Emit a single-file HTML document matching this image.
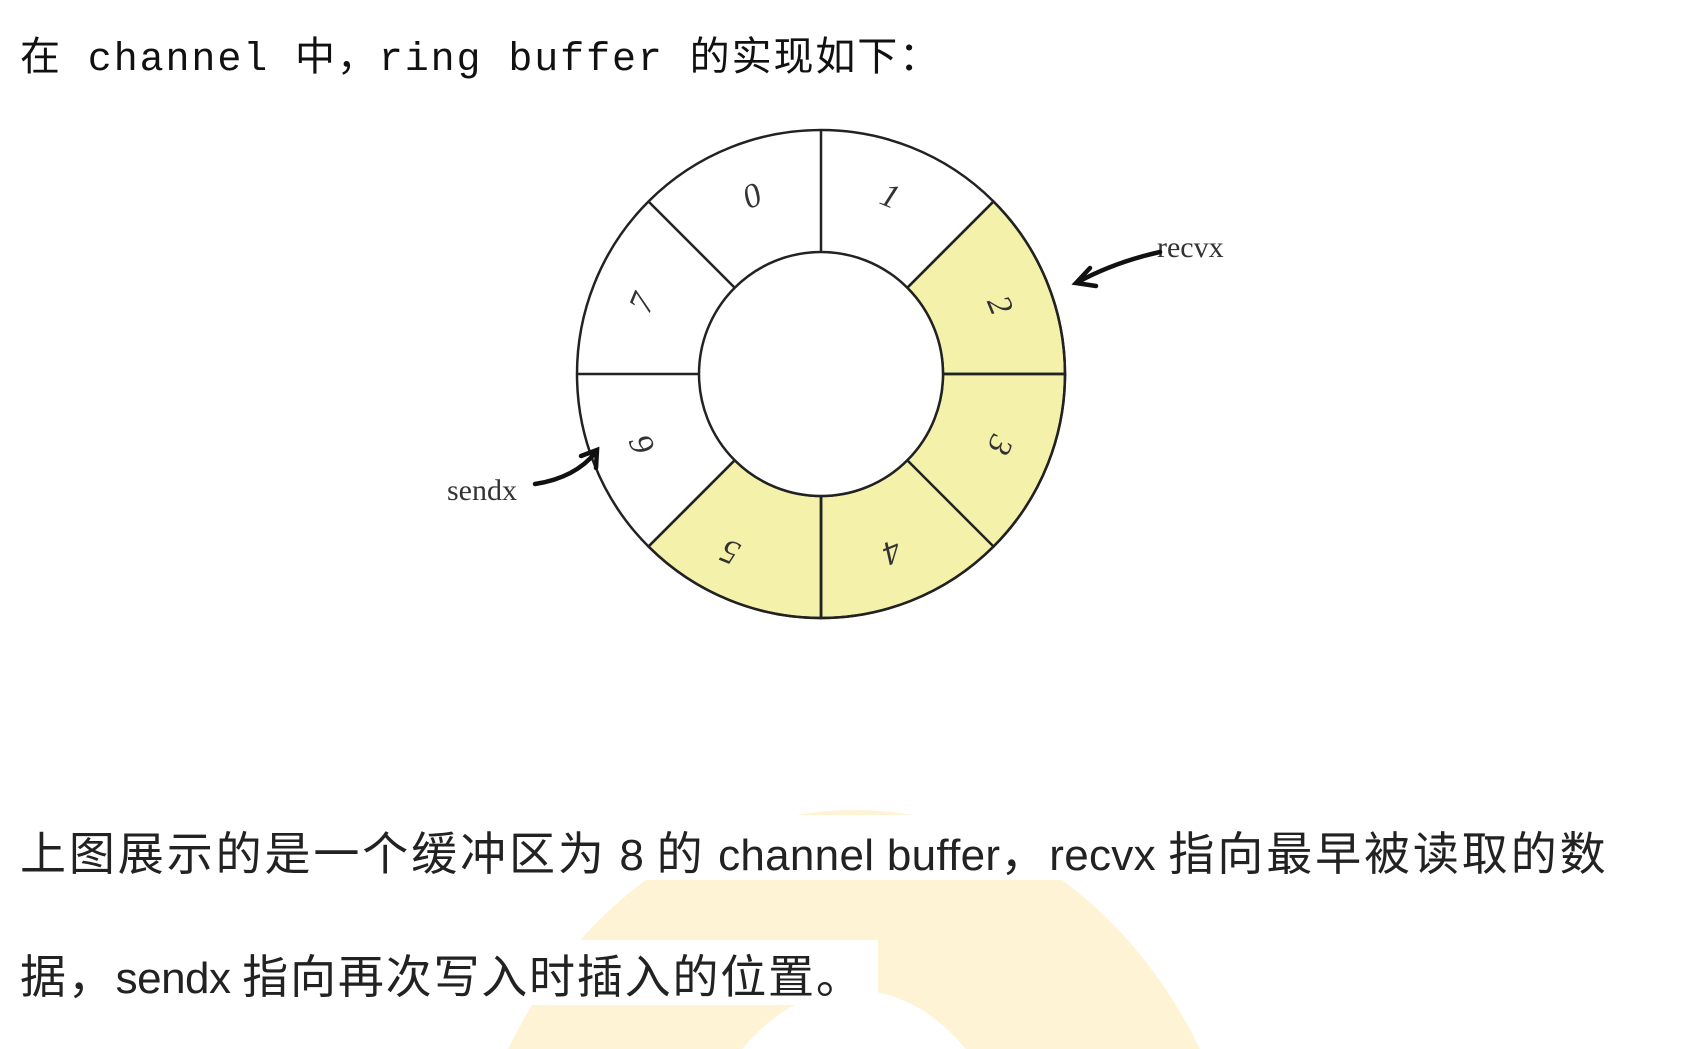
<!DOCTYPE html>
<html><head><meta charset="utf-8"><style>
html,body{margin:0;padding:0;background:#fff;width:1681px;height:1049px;overflow:hidden;position:relative}
.t1{position:absolute;left:20px;top:24px;font:40px "Liberation Mono","Noto Sans CJK SC",monospace;color:#111;white-space:nowrap;letter-spacing:1.9px}
.b{position:absolute;left:20px;font:46px "Liberation Sans","Noto Sans CJK SC",sans-serif;color:#222;white-space:nowrap;letter-spacing:1.8px;line-height:56px}
.b span{font-size:44px;letter-spacing:-0.5px}
.l1{letter-spacing:2.9px}
.l1 span{letter-spacing:0.3px}
svg{position:absolute;left:0;top:0;overflow:hidden}
</style></head><body>
<svg width="1681" height="1049" viewBox="0 0 1681 1049">
<ellipse cx="854" cy="1290" rx="400" ry="480" fill="#fff3d6"/>
<ellipse cx="854" cy="1230" rx="170" ry="240" fill="#fff"/>
<rect x="0" y="815" width="1681" height="65" fill="#fff"/>
<rect x="0" y="940" width="878" height="65" fill="#fff"/>
<g stroke="#222" stroke-width="2.5">
<path d="M821 374 L1065 374 A244 244 0 0 0 993.5 201.5 L907.3 287.7 A122 122 0 0 1 943 374 Z" fill="#f3f1aa"/>
<path d="M1065 374 A244 244 0 0 1 821 618 L821 496 A122 122 0 0 0 943 374 Z" fill="#f3f1aa"/>
<path d="M821 618 A244 244 0 0 1 648.5 546.5 L734.7 460.3 A122 122 0 0 0 821 496 Z" fill="#f3f1aa"/>
<circle cx="821" cy="374" r="244" fill="none"/>
<circle cx="821" cy="374" r="122" fill="#fff"/>
<line x1="821" y1="130" x2="821" y2="252"/>
<line x1="821" y1="496" x2="821" y2="618"/>
<line x1="577" y1="374" x2="699" y2="374"/>
<line x1="943" y1="374" x2="1065" y2="374"/>
<line x1="648.5" y1="201.5" x2="734.7" y2="287.7"/>
<line x1="993.5" y1="201.5" x2="907.3" y2="287.7"/>
<line x1="648.5" y1="546.5" x2="734.7" y2="460.3"/>
<line x1="993.5" y1="546.5" x2="907.3" y2="460.3"/>
</g>
<g font-family="Liberation Serif,serif" font-style="italic" font-size="34" fill="#333" text-anchor="middle">
<text transform="translate(752,196) rotate(-22.5)" dy="11">0</text>
<text transform="translate(890,196) rotate(22.5)" dy="11">1</text>
<text transform="translate(1000,305) rotate(67.5)" dy="11">2</text>
<text transform="translate(1000,445) rotate(112.5)" dy="11">3</text>
<text transform="translate(892,552) rotate(157.5)" dy="11">4</text>
<text transform="translate(730,552) rotate(202.5)" dy="11">5</text>
<text transform="translate(642,445) rotate(247.5)" dy="11">6</text>
<text transform="translate(642,303) rotate(292.5)" dy="11">7</text>
</g>
<g font-family="Liberation Serif,serif" font-size="30" fill="#333">
<text x="1157" y="257">recvx</text>
<text x="447" y="500">sendx</text>
</g>
<g stroke="#111" stroke-width="4.5" fill="none" stroke-linecap="round">
<path d="M1160 252 Q1115 262 1078 282"/>
<path d="M1090 268 L1076 283 L1096 286"/>
<path d="M535 484 Q575 478 596 452"/>
<path d="M581 456 L597 450 L596 468"/>
</g>
</svg>
<div class="t1">在 channel 中，ring buffer 的实现如下：</div>
<div class="b l1" style="top:826px">上图展示的是一个缓冲区为<span> 8 </span>的<span> channel buffer</span>，<span>recvx </span>指向最早被读取的数</div>
<div class="b" style="top:949px">据，<span>sendx </span>指向再次写入时插入的位置。</div>
</body></html>
